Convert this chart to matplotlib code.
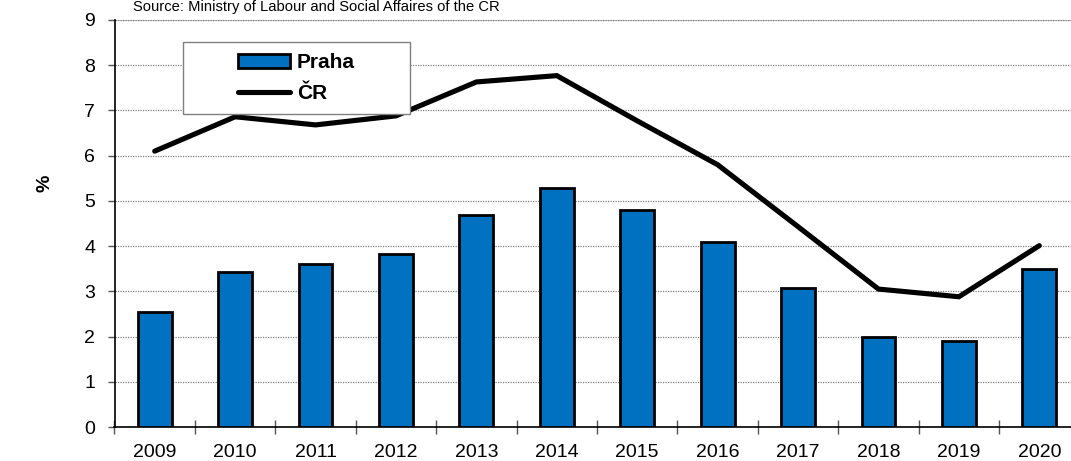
import numpy as np
import matplotlib.pyplot as plt
from matplotlib.patches import Rectangle

years = ['2009', '2010', '2011', '2012', '2013', '2014',
         '2015', '2016', '2017', '2018', '2019', '2020']
praha = [2.54, 3.43, 3.61, 3.83, 4.68, 5.28, 4.80, 4.08, 3.07, 2.00, 1.90, 3.50]
cr = [6.10, 6.86, 6.68, 6.88, 7.63, 7.77, 6.77, 5.80, 4.43, 3.05, 2.88, 4.01]

plt.rcParams['font.family'] = ['Liberation Sans', 'DejaVu Sans']

W, H = 1071, 461
fig = plt.figure(figsize=(W / 100, H / 100), dpi=100)
# axes extends past the right edge of the figure like the original
left, right, top, bottom = 114.5, 1079.5, 20, 427
ax = fig.add_axes([left / W, 1 - bottom / H, (right - left) / W, (bottom - top) / H])

x = np.arange(len(years))
bars = ax.bar(x, praha, width=0.42, color='#0070C0', edgecolor='black', linewidth=2,
              label='Praha', zorder=3)
line, = ax.plot(x, cr, color='black', linewidth=3.7, label='ČR', zorder=4,
                solid_capstyle='round', solid_joinstyle='miter')

ax.set_xlim(-0.5, len(years) - 0.5)
ax.set_ylim(0, 9)
ax.set_yticks(range(10))
ax.yaxis.grid(True, linestyle=(0, (1, 1)), color='#808080', linewidth=0.9, zorder=0)
ax.axhline(9, color='#c0c0c0', linewidth=1.5, zorder=1)

ax.set_xticks(x)
ax.set_xticklabels(years)
ax.set_xticks(np.arange(-0.5, len(years)), minor=True)
ax.tick_params(axis='x', which='major', length=0, pad=12, labelsize=14)
ax.tick_params(axis='x', which='minor', direction='inout', length=9.5, width=1, color='#555555')
ax.tick_params(axis='y', direction='out', length=5, width=1, color='#555555', labelsize=14, pad=9)

for s in ['top', 'right']:
    ax.spines[s].set_visible(False)
for s in ['left', 'bottom']:
    ax.spines[s].set_color('black')
    ax.spines[s].set_linewidth(1.2)

fig.text(45 / W, 1 - 183 / H, '%', rotation=90, fontsize=14, fontweight='bold',
         ha='center', va='center')

# legend: frame drawn separately to get the wide side padding
bx0, by0, bx1, by1 = 183, 42, 410, 114
fig.patches.append(Rectangle((bx0 / W, 1 - by1 / H), (bx1 - bx0) / W, (by1 - by0) / H,
                             transform=fig.transFigure, facecolor='white',
                             edgecolor='#808080', linewidth=1, zorder=5))
leg = fig.legend([bars, line], ['Praha', 'ČR'], loc='center',
                 bbox_to_anchor=((bx0 + bx1) / 2 / W, 1 - (by0 + by1) / 2 / H),
                 frameon=False, prop={'weight': 'bold', 'size': 15},
                 handlelength=2.5, handleheight=0.6, handletextpad=0.3,
                 borderpad=0, labelspacing=0.55)
leg.set_zorder(6)

fig.text(133 / W, 1 - 11 / H, 'Source: Ministry of Labour and Social Affaires of the CR',
         fontsize=10.6, va='baseline', ha='left')

fig.savefig('out.png', dpi=100)
